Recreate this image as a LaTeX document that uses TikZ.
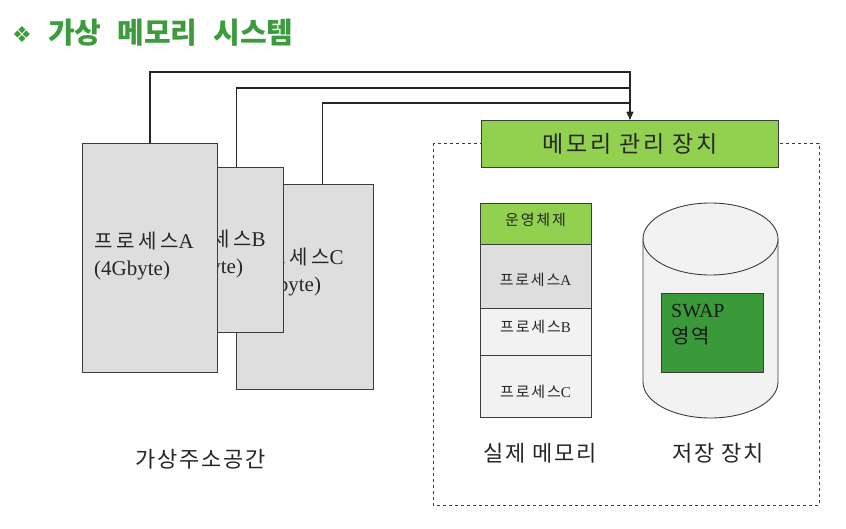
\documentclass[tikz,border=0pt]{standalone}
\usepackage{fontspec}
\setmainfont{Liberation Serif}
\newfontfamily\kr{Noto Sans CJK KR}
\newfontfamily\krA{Noto Sans CJK KR}[LetterSpace=18]
\newfontfamily\krL{Noto Sans CJK KR}[LetterSpace=8]
\newfontfamily\krM{Noto Sans CJK KR}[LetterSpace=12]
\newfontfamily\dejavu{DejaVu Sans}
\usetikzlibrary{arrows.meta}
\definecolor{titlegreen}{RGB}{60,155,60}
\definecolor{lightgreen}{RGB}{146,208,80}
\definecolor{swapgreen}{RGB}{58,154,58}
\definecolor{procgray}{RGB}{222,222,222}
\definecolor{palegray}{RGB}{242,242,242}
\definecolor{edgegray}{RGB}{60,60,60}
\newcommand\fs[2]{\fontsize{#1}{#2}\selectfont}
\tikzset{
  procbox/.style={draw=edgegray, line width=0.9pt, fill=procgray, inner sep=0pt, anchor=north west},
  proctext/.style={anchor=west, align=left, inner sep=0pt, font=\fs{21}{27}, text=black!85},
  memseg/.style={draw=edgegray, line width=0.9pt, inner sep=0pt, anchor=north west, minimum width=111pt},
  stacktext/.style={inner sep=0pt, font=\fs{15}{15}, text=black!85},
  conn/.style={draw=black!85, line width=1.1pt, -{Latex[length=8pt,width=7pt]}},
  label/.style={font=\krL\fs{22}{22}, text=black!85, inner sep=0pt},
}
\begin{document}
\begin{tikzpicture}[x=1pt,y=-1pt]
\useasboundingbox[fill=white] (0,0) rectangle (846,529);
% title
\node[inner sep=0pt, text=titlegreen, font=\dejavu\fs{22}{22}] (bullet) at (22,35) {❖};
\node[anchor=west, inner sep=0pt, text=titlegreen, font=\kr\bfseries\fs{29}{29}] (title) at (48,33) {가상\hspace{0.55em}메모리\hspace{0.55em}시스템};
% virtual address spaces
\node[procbox, minimum width=137pt, minimum height=205pt] (pC) at (236,184) {};
\node[proctext] (tC) at (245,272) {{\krA\fs{20}{27}프로세스}C\\(4Gbyte)};
\node[procbox, minimum width=128pt, minimum height=165pt] (pB) at (155,167) {};
\node[proctext] (tB) at (167,254) {{\krA\fs{20}{27}프로세스}B\\(4Gbyte)};
\node[procbox, minimum width=135pt, minimum height=229pt] (pA) at (82,143) {};
\node[proctext] (tA) at (94,256) {{\krA\fs{20}{27}프로세스}A\\(4Gbyte)};
\node[label] (vlabel) at (201,459) {가상주소공간};
% dashed enclosure
\draw[draw=edgegray, line width=0.9pt, dashed] (433,143) rectangle (819,505);
% MMU
\node[draw=edgegray, line width=0.9pt, fill=lightgreen, inner sep=0pt, anchor=north west,
      minimum width=297pt, minimum height=47pt, font=\krM\fs{23}{23}, text=black!85] (mmu) at (481,120) {메모리 관리 장치};
% connectors
\draw[conn] (pA.north) |- ([yshift=48pt]mmu.north) -- (mmu.north);
\draw[conn] ([xshift=17pt]pB.north) |- ([yshift=32pt]mmu.north) -- (mmu.north);
\draw[conn] ([xshift=17.5pt]pC.north) |- ([yshift=17pt]mmu.north) -- (mmu.north);
% physical memory
\node[memseg, fill=lightgreen, minimum height=41pt] (os) at (480,203) {};
\node[memseg, fill=procgray, minimum height=64pt] (mA) at (480,244) {};
\node[memseg, fill=palegray, minimum height=47pt] (mB) at (480,308) {};
\node[memseg, fill=palegray, minimum height=62pt] (mC) at (480,355) {};
\node[stacktext, font=\krM\fs{15}{15}] (tos) at (535.5,220) {운영체제};
\node[stacktext] (tmA) at (535.5,280) {{\krM 프로세스}A};
\node[stacktext] (tmB) at (535.5,327) {{\krM 프로세스}B};
\node[stacktext] (tmC) at (535.5,392) {{\krM 프로세스}C};
\node[label] (mlabel) at (540,453) {실제 메모리};
% storage cylinder
\draw[draw=edgegray, line width=0.9pt, fill=palegray] (643,239) -- (643,382)
   arc[start angle=180, end angle=360, x radius=67.5pt, y radius=36pt] -- (778,239) -- cycle;
\draw[draw=edgegray, line width=0.9pt, fill=palegray] (710.5,239) ellipse[x radius=67.5pt, y radius=36pt];
\node[draw=edgegray, line width=0.9pt, fill=swapgreen, inner sep=0pt, anchor=north west,
      minimum width=102pt, minimum height=79pt] (swap) at (661,293) {};
\node[anchor=west, align=left, inner sep=0pt, font=\fs{20}{26}, text=black!90] (swaptext) at (671,325) {SWAP\\{\krL 영역}};
\node[label] (slabel) at (718,453) {저장 장치};
\end{tikzpicture}
\end{document}
